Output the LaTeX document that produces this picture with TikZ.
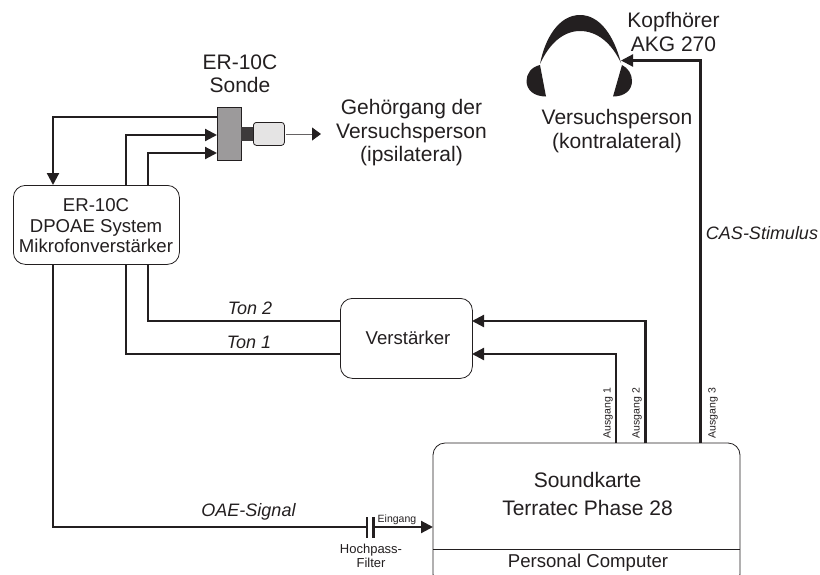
\documentclass[tikz,border=0pt]{standalone}
\usepackage{fontspec}
\setmainfont{Liberation Sans}
\usetikzlibrary{arrows.meta}
\definecolor{ink}{HTML}{231F20}
\tikzset{
  x=1pt,y=-1pt,
  wire/.style={draw=ink,line width=2.2pt},
  arrowwire/.style={wire,-{Triangle[length=12pt,width=12pt]}},
  box/.style={draw=ink,line width=0.8pt,rounded corners=12pt,fill=white},
  lbl/.style={font=\fontsize{18.6}{20.5}\selectfont,text=ink,align=center,inner sep=0pt},
  outerlbl/.style={font=\fontsize{21}{23.5}\selectfont,text=ink,align=center,inner sep=0pt},
  biglbl/.style={font=\fontsize{21}{28}\selectfont,text=ink,align=center,inner sep=0pt},
  ital/.style={font=\fontsize{18}{20}\selectfont\itshape,text=ink,inner sep=0pt},
  tiny/.style={font=\fontsize{10.5}{12}\selectfont,text=ink,inner sep=0pt,align=center},
}
\begin{document}
\begin{tikzpicture}
\useasboundingbox (0,0) rectangle (820,574);
% named anchors
\node[box,minimum width=166pt,minimum height=79pt,anchor=north west] (dp) at (13,185) {};
\node[box,minimum width=132pt,minimum height=80pt,anchor=north west] (amp) at (340,298) {};
\begin{scope}
\clip (425,435) rectangle (750,574);
\draw[box] (433,443) rectangle (740,586);
\draw[ink,line width=0.8pt] (433,549) -- (740,549);
\end{scope}
\node[draw=ink,line width=1pt,fill=ink!45,minimum width=24pt,minimum height=53pt,inner sep=0pt,anchor=north west] (probe) at (217,107) {};
\node[fill=ink!88,minimum width=12pt,minimum height=14pt,inner sep=0pt,anchor=north west] (tube) at (241,127) {};
\node[draw=ink,line width=0.8pt,fill=ink!12,rounded corners=3pt,minimum width=31pt,minimum height=23pt,inner sep=0pt,anchor=north west] (tip) at (253,122) {};
\coordinate (ear) at (321,134);
% connectors
\draw[arrowwire] (probe.west |- 0,117) -- (53,117) -- (53,185);
\draw[arrowwire] (126,185) -- (126,135) -- (probe.west |- 0,135);
\draw[arrowwire] (148,185) -- (148,153) -- (probe.west |- 0,153);
\draw[draw=ink!70,line width=1pt,-{Triangle[length=9pt,width=13pt,color=ink,fill=ink]}] (tip.east |- 0,134) ++(1,0) -- (ear);
\draw[wire] (126,264) -- (126,354) -- (340,354);
\draw[wire] (148,264) -- (148,321) -- (340,321);
\draw[arrowwire] (616,443) -- (616,354) -- (472,354);
\draw[arrowwire] (645.5,443) -- (645.5,321) -- (472,321);
\draw[arrowwire] (700.5,443) -- (700.5,60.5) -- (621,60.5);
\draw[wire] (53,264) -- (53,527) -- (367,527);
\draw[arrowwire] (373,527) -- (433,527);
\draw[ink,line width=2.2pt] (367,517) -- (367,538);
\draw[ink,line width=2.2pt] (373.5,517) -- (373.5,538);
% headphones
\fill[ink] (540,64) .. controls (545,38) and (559,15) .. (580,15) .. controls (600,15) and (614,36) .. (621,63)
  .. controls (612,44) and (598,31) .. (580,31) .. controls (563,31) and (549,44) .. (540,64) -- cycle;
\fill[ink] (540,65) .. controls (531,67) and (526.5,74) .. (526.5,81) .. controls (526.5,90) and (534,96.5) .. (546,96.5) -- cycle;
\fill[ink] (622,65) .. controls (628,68) and (632,74) .. (632,81) .. controls (632,90) and (625,96.5) .. (613,96.5) -- cycle;
% labels
\node[outerlbl] (t1) at (240,74) {ER-10C\\Sonde};
\node[outerlbl] (t2) at (411.5,133) {Gehörgang der\\Versuchsperson\\(ipsilateral)};
\node[lbl] (t3) at (96,226) {ER-10C\\DPOAE System\\Mikrofonverstärker};
\node[lbl] (t4) at (408,338) {Verstärker};
\node[outerlbl] (t5) at (673.5,32) {Kopfhörer\\AKG 270};
\node[outerlbl] (t6) at (617,131) {Versuchsperson\\(kontralateral)};
\node[biglbl] (t7) at (587.5,494) {Soundkarte\\Terratec Phase 28};
\node[lbl] (t8) at (588,563) {Personal Computer};
\node[ital] (t9) at (250,308) {Ton 2};
\node[ital] (t10) at (249,342) {Ton 1};
\node[ital] (t11) at (248.5,512) {OAE-Signal};
\node[ital] (t12) at (762,233) {CAS-Stimulus};
\node[tiny] (t13) at (397,520) {Eingang};
\node[tiny,font=\fontsize{13}{14}\selectfont] (t14) at (371,556) {Hochpass-\\Filter};
\node[tiny,rotate=90] (t15) at (608,413) {Ausgang 1};
\node[tiny,rotate=90] (t16) at (637,413) {Ausgang 2};
\node[tiny,rotate=90] (t17) at (713,413) {Ausgang 3};
\end{tikzpicture}
\end{document}
